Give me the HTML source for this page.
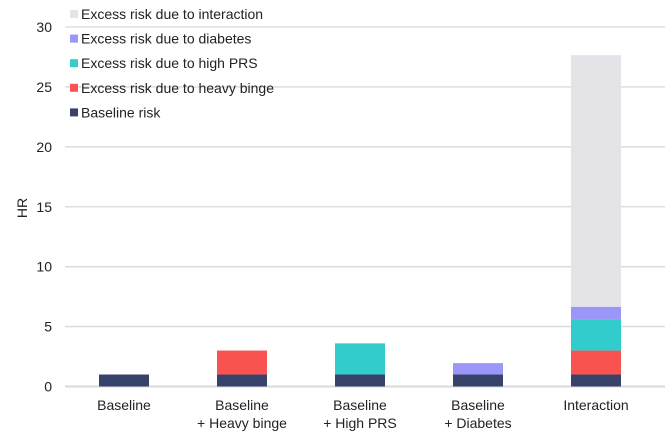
<!DOCTYPE html>
<html><head><meta charset="utf-8"><style>
body{margin:0;background:#fff;font-family:"Liberation Sans",Arial,sans-serif;}
svg text{font-family:"Liberation Sans",Arial,sans-serif;fill:#222;}
</style></head><body>
<svg width="668" height="438">
<g id="grid"></g><g id="bars"></g><g id="labels"></g><g id="legend"></g>
<text transform="translate(27,208) rotate(-90)" text-anchor="middle" font-size="14">HR</text>
</svg>
<script>
const categories=[["Baseline"],["Baseline","+ Heavy binge"],["Baseline","+ High PRS"],["Baseline","+ Diabetes"],["Interaction"]];
const seriesNames=["Baseline risk","Excess risk due to heavy binge","Excess risk due to high PRS","Excess risk due to diabetes","Excess risk due to interaction"];
const seriesColors=["#38436b","#f8534f","#33cccc","#9a97f8","#e3e3e8"];
const baseline=[1,1,1,1,1];
const binge=[0,2,0,0,2];
const prs=[0,0,2.6,0,2.6];
const diabetes=[0,0,0,0.95,1.05];
const interaction=[0,0,0,0,21];
const yTicks=[0,5,10,15,20,25,30];
const series=[baseline,binge,prs,diabetes,interaction];
const NS="http://www.w3.org/2000/svg";
const left=65,right=655,y0=386.5,yTop=27,yMax=30;
const band=(right-left)/categories.length,bw=50;
const y=v=>y0-(v/yMax)*(y0-yTop);
const x=i=>left+band*(i+0.5);
function mk(t,a,p){const e=document.createElementNS(NS,t);for(const k in a)e.setAttribute(k,a[k]);p.appendChild(e);return e;}
const g=document.getElementById('grid');
yTicks.forEach(t=>{
 const l=mk('line',{x1:left,x2:665,y1:y(t),y2:y(t),stroke:'#d9d9d9','stroke-width':t===0?2:1.3},g);
 
 
 const tx=mk('text',{x:52,y:y(t)+5,'text-anchor':'end','font-size':14},g);tx.textContent=t;
 
 
});
const b=document.getElementById('bars');
categories.forEach((c,i)=>{
 let acc=0;
 series.forEach((s,j)=>{
  if(s[i]<=0)return;
  const r=mk('rect',{x:x(i)-bw/2,y:y(acc+s[i]),width:bw,height:y(acc)-y(acc+s[i]),fill:seriesColors[j]},b);
  
  
  acc+=s[i];
 });
 const lb=document.getElementById('labels');
 c.forEach((line,k)=>{
  const t=mk('text',{x:x(i),y:410+k*18,'text-anchor':'middle','font-size':14},lb);t.textContent=line;
  
  
 });
});
const lg=document.getElementById('legend');
const order=[4,3,2,1,0];
order.forEach((si,k)=>{
 const cy=14+k*24.6;
 const gr=mk('g',{},lg);
 
 
 mk('rect',{x:70,y:cy-4,width:8,height:8,fill:seriesColors[si]},gr);
 const t=mk('text',{x:81,y:cy+5,'font-size':14},gr);t.textContent=seriesNames[si];
});
</script>
</body></html>
